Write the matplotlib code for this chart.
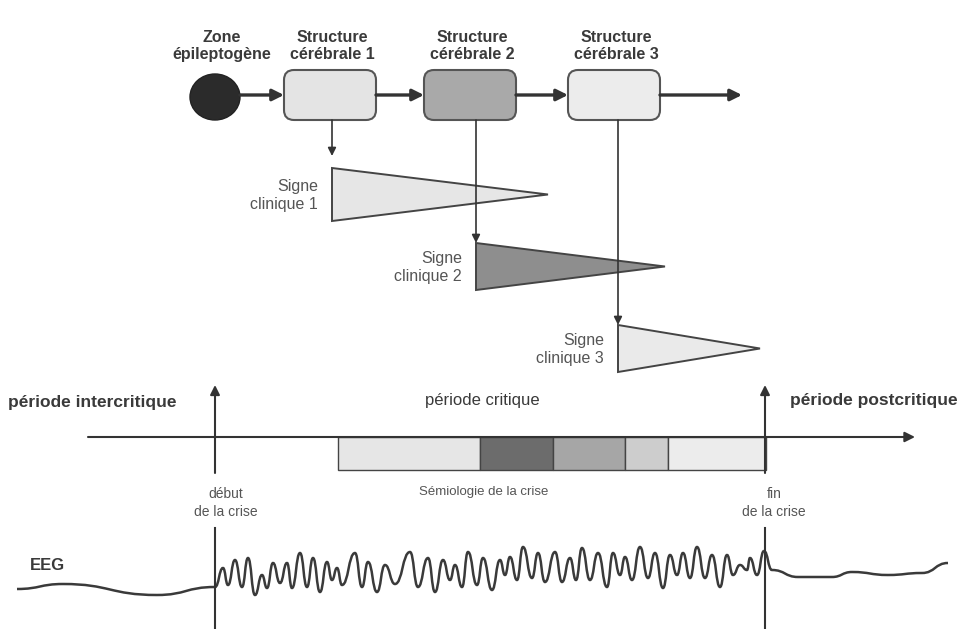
import matplotlib.pyplot as plt
from matplotlib.patches import FancyBboxPatch, Ellipse, Polygon, Rectangle
from matplotlib.path import Path
from matplotlib.patches import PathPatch

plt.rcParams['font.family'] = ['Liberation Sans', 'DejaVu Sans']

# --- diagram content (pixel coordinates) ---
structure_labels = ["Structure\ncérébrale 1", "Structure\ncérébrale 2", "Structure\ncérébrale 3"]
structure_x = [284, 424, 568]
structure_fill = ["#e4e4e4", "#a9a9a9", "#ececec"]

signe_labels = ["Signe\nclinique 1", "Signe\nclinique 2", "Signe\nclinique 3"]
signe_left = [332, 476, 618]
signe_top = [168, 243, 325]
signe_bottom = [221, 290, 372]
signe_tip = [548, 665, 760]
signe_fill = ["#e6e6e6", "#8e8e8e", "#eaeaea"]

strip_edges = [338, 480, 553, 625, 668, 766]
strip_fill = ["#e6e6e6", "#6c6c6c", "#a6a6a6", "#cdcdcd", "#ececec"]

# EEG trace: successive extrema (x, y)
eeg_pre_x = [17, 63, 157, 215]
eeg_pre_y = [589, 584, 595, 587]
eeg_ictal_x = [215, 223, 228, 235, 242, 248, 255, 262, 267, 273, 280, 287, 292, 300, 307,
               313, 320, 327, 332, 337, 342, 355, 362, 368, 377, 385, 395, 410, 418, 428,
               435, 443, 450, 455, 462, 468, 477, 483, 492, 500, 505, 510, 517, 523, 532,
               538, 545, 555, 562, 570, 576, 582, 590, 598, 607, 613, 620, 625, 632, 640,
               648, 655, 663, 670, 677, 683, 690, 697, 705, 712, 720, 727, 733, 740, 747,
               750, 757, 764]
eeg_ictal_y = [587, 568, 585, 560, 587, 558, 595, 575, 588, 563, 583, 563, 588, 553, 587,
               558, 592, 562, 580, 568, 585, 553, 587, 562, 592, 565, 584, 552, 587, 558,
               592, 560, 580, 565, 587, 552, 585, 558, 590, 560, 575, 557, 580, 547, 578,
               553, 582, 552, 582, 558, 580, 548, 580, 553, 587, 553, 575, 557, 580, 547,
               578, 553, 588, 555, 575, 553, 578, 547, 578, 555, 587, 555, 575, 565, 570,
               558, 575, 551]
eeg_post_x = [764, 772, 798, 832, 852, 888, 922, 948]
eeg_post_y = [551, 570, 577, 577, 572, 575, 573, 563]

LINE = "#333333"
TEXT = "#3a3a3a"
SOFT = "#555555"


def smooth_path(xs, ys):
    verts = [(xs[0], ys[0])]
    codes = [Path.MOVETO]
    for i in range(1, len(xs)):
        x0, y0, x1, y1 = xs[i - 1], ys[i - 1], xs[i], ys[i]
        d = (x1 - x0) * 0.5
        verts += [(x0 + d, y0), (x1 - d, y1), (x1, y1)]
        codes += [Path.CURVE4] * 3
    return Path(verts, codes)


def arrow(ax, x0, y0, x1, y1, lw=1.2, ms=14):
    ax.annotate("", xy=(x1, y1), xytext=(x0, y0),
                arrowprops=dict(arrowstyle="-|>", color=LINE, lw=lw,
                                mutation_scale=ms, shrinkA=0, shrinkB=0))


fig = plt.figure(figsize=(9.6, 6.29), dpi=100)
ax = fig.add_axes([0, 0, 1, 1])
ax.set_xlim(0, 960)
ax.set_ylim(629, 0)
ax.axis("off")

# --- top chain ---
ax.add_patch(Ellipse((215, 97), 50, 46, facecolor="#2b2b2b", edgecolor="#222222"))
ax.text(222, 46, "Zone\népileptogène", ha="center", va="center", fontsize=11.5,
        fontweight="bold", color=TEXT, linespacing=1.15)

box_w, box_top, box_h = 92, 70, 50
for lbl, x, fc in zip(structure_labels, structure_x, structure_fill):
    ax.add_patch(FancyBboxPatch((x, box_top), box_w, box_h,
                                boxstyle="round,pad=0,rounding_size=10",
                                facecolor=fc, edgecolor="#555555", lw=1.5))
    ax.text(x + box_w / 2 + 2, 46, lbl, ha="center", va="center", fontsize=11.5,
            fontweight="bold", color=TEXT, linespacing=1.15)

arrow(ax, 240, 95, 284, 95, lw=2.4, ms=17)
arrow(ax, 376, 95, 424, 95, lw=2.4, ms=17)
arrow(ax, 516, 95, 568, 95, lw=2.4, ms=17)
arrow(ax, 660, 95, 742, 95, lw=2.4, ms=17)

# vertical arrows to clinical signs
arrow(ax, 332, box_top + box_h, 332, signe_top[0] - 12, lw=1.2, ms=12)
arrow(ax, 476, box_top + box_h, 476, signe_top[1], lw=1.2, ms=12)
arrow(ax, 618, box_top + box_h, 618, signe_top[2], lw=1.2, ms=12)

for lbl, xl, yt, yb, xt, fc in zip(signe_labels, signe_left, signe_top, signe_bottom,
                                   signe_tip, signe_fill):
    ax.add_patch(Polygon([(xl, yt), (xl, yb), (xt, (yt + yb) / 2)], closed=True,
                         facecolor=fc, edgecolor="#444444", lw=1.4, zorder=1))
    ax.text(xl - 14, (yt + yb) / 2 + 1, lbl, ha="right", va="center", fontsize=11.5,
            color=SOFT, linespacing=1.2)

# --- timeline ---
ax.text(8, 403, "période intercritique", ha="left", va="center", fontsize=12.5,
        fontweight="bold", color=TEXT)
ax.text(482, 401, "période critique", ha="center", va="center", fontsize=12,
        color=TEXT)
ax.text(790, 401, "période postcritique", ha="left", va="center", fontsize=12.5,
        fontweight="bold", color=TEXT)

for i, fc in enumerate(strip_fill):
    ax.add_patch(Rectangle((strip_edges[i], 437), strip_edges[i + 1] - strip_edges[i], 33,
                           facecolor=fc, edgecolor="#444444", lw=1.0))
arrow(ax, 88, 437, 915, 437, lw=1.5, ms=15)

for xv in (215, 765):
    arrow(ax, xv, 473, xv, 385, lw=1.5, ms=14)
    ax.plot([xv, xv], [528, 629], color=LINE, lw=1.5)

ax.text(484, 492, "Sémiologie de la crise", ha="center", va="center", fontsize=9.5,
        color=SOFT)
ax.text(226, 503, "début\nde la crise", ha="center", va="center", fontsize=10,
        color=SOFT, linespacing=1.3)
ax.text(774, 503, "fin\nde la crise", ha="center", va="center", fontsize=10,
        color=SOFT, linespacing=1.3)

# --- EEG ---
ax.text(30, 566, "EEG", ha="left", va="center", fontsize=12, fontweight="bold", color=TEXT)
for xs, ys in ((eeg_pre_x, eeg_pre_y), (eeg_ictal_x, eeg_ictal_y), (eeg_post_x, eeg_post_y)):
    ax.add_patch(PathPatch(smooth_path(xs, ys), facecolor="none", edgecolor="#3a3a3a", lw=1.8))

fig.savefig("out.png", dpi=100)
